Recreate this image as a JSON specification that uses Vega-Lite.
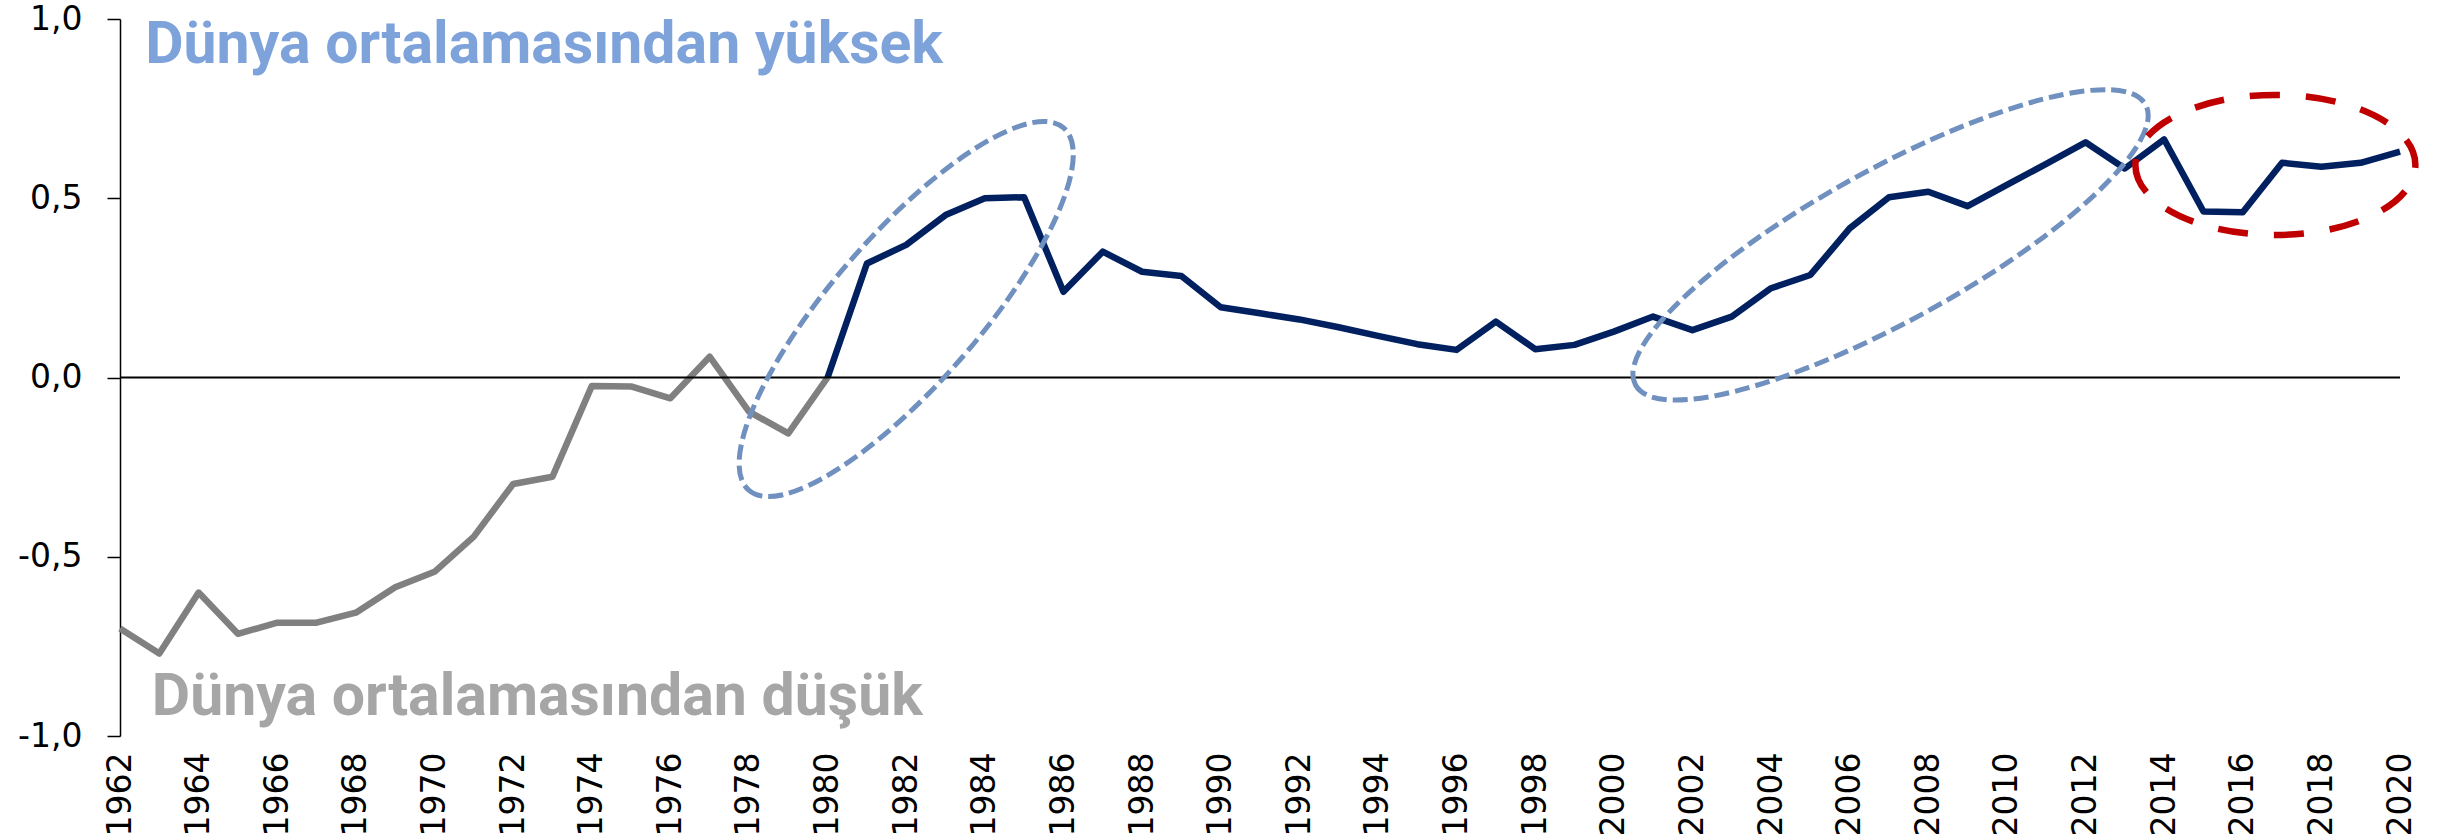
{
  "$schema": "https://vega.github.io/schema/vega-lite/v6.json",
  "autosize": {"type": "none"},
  "padding": {"left": 120, "top": 19, "right": 48, "bottom": 98},
  "width": 2280,
  "height": 717,
  "background": "white",
  "config": {"view": {"stroke": null}},
  "datasets": {
    "series": [
      {"year": 1962, "value": -0.70, "s": "low"},
      {"year": 1963, "value": -0.77, "s": "low"},
      {"year": 1964, "value": -0.60, "s": "low"},
      {"year": 1965, "value": -0.715, "s": "low"},
      {"year": 1966, "value": -0.684, "s": "low"},
      {"year": 1967, "value": -0.684, "s": "low"},
      {"year": 1968, "value": -0.656, "s": "low"},
      {"year": 1969, "value": -0.585, "s": "low"},
      {"year": 1970, "value": -0.542, "s": "low"},
      {"year": 1971, "value": -0.444, "s": "low"},
      {"year": 1972, "value": -0.297, "s": "low"},
      {"year": 1973, "value": -0.277, "s": "low"},
      {"year": 1974, "value": -0.024, "s": "low"},
      {"year": 1975, "value": -0.025, "s": "low"},
      {"year": 1976, "value": -0.058, "s": "low"},
      {"year": 1977, "value": 0.058, "s": "low"},
      {"year": 1978, "value": -0.095, "s": "low"},
      {"year": 1979, "value": -0.156, "s": "low"},
      {"year": 1980, "value": 0.0, "s": "low"},
      {"year": 1980, "value": 0.0, "s": "high"},
      {"year": 1981, "value": 0.318, "s": "high"},
      {"year": 1982, "value": 0.370, "s": "high"},
      {"year": 1983, "value": 0.453, "s": "high"},
      {"year": 1984, "value": 0.500, "s": "high"},
      {"year": 1985, "value": 0.503, "s": "high"},
      {"year": 1986, "value": 0.239, "s": "high"},
      {"year": 1987, "value": 0.351, "s": "high"},
      {"year": 1988, "value": 0.295, "s": "high"},
      {"year": 1989, "value": 0.283, "s": "high"},
      {"year": 1990, "value": 0.196, "s": "high"},
      {"year": 1991, "value": 0.179, "s": "high"},
      {"year": 1992, "value": 0.162, "s": "high"},
      {"year": 1993, "value": 0.140, "s": "high"},
      {"year": 1994, "value": 0.116, "s": "high"},
      {"year": 1995, "value": 0.093, "s": "high"},
      {"year": 1996, "value": 0.077, "s": "high"},
      {"year": 1997, "value": 0.156, "s": "high"},
      {"year": 1998, "value": 0.079, "s": "high"},
      {"year": 1999, "value": 0.091, "s": "high"},
      {"year": 2000, "value": 0.128, "s": "high"},
      {"year": 2001, "value": 0.170, "s": "high"},
      {"year": 2002, "value": 0.132, "s": "high"},
      {"year": 2003, "value": 0.170, "s": "high"},
      {"year": 2004, "value": 0.249, "s": "high"},
      {"year": 2005, "value": 0.286, "s": "high"},
      {"year": 2006, "value": 0.416, "s": "high"},
      {"year": 2007, "value": 0.503, "s": "high"},
      {"year": 2008, "value": 0.518, "s": "high"},
      {"year": 2009, "value": 0.478, "s": "high"},
      {"year": 2010, "value": 0.537, "s": "high"},
      {"year": 2011, "value": 0.596, "s": "high"},
      {"year": 2012, "value": 0.656, "s": "high"},
      {"year": 2013, "value": 0.583, "s": "high"},
      {"year": 2014, "value": 0.664, "s": "high"},
      {"year": 2015, "value": 0.463, "s": "high"},
      {"year": 2016, "value": 0.461, "s": "high"},
      {"year": 2017, "value": 0.599, "s": "high"},
      {"year": 2018, "value": 0.588, "s": "high"},
      {"year": 2019, "value": 0.599, "s": "high"},
      {"year": 2020, "value": 0.630, "s": "high"}
    ],
    "ellipses": [
      {"name": "e1", "year": 1982.0, "value": 0.191},
      {"name": "e2", "year": 2007.04, "value": 0.37},
      {"name": "e3", "year": 2016.83, "value": 0.593}
    ],
    "labels": [
      {"kind": "high", "year": 1962.64, "value": 0.877, "text": "Dünya ortalamasından yüksek"},
      {"kind": "low", "year": 1962.81, "value": -0.941, "text": "Dünya ortalamasından düşük"}
    ]
  },
  "layer": [
    {
      "data": {"name": "series"},
      "mark": {"type": "line", "strokeWidth": 6.5, "strokeJoin": "round"},
      "encoding": {
        "x": {
          "field": "year", "type": "quantitative",
          "scale": {"domain": [1962, 2020], "nice": false, "zero": false},
          "axis": {
            "title": null,
            "values": [1962,1964,1966,1968,1970,1972,1974,1976,1978,1980,1982,1984,1986,1988,1990,1992,1994,1996,1998,2000,2002,2004,2006,2008,2010,2012,2014,2016,2018,2020],
            "format": "d",
            "domain": false, "ticks": false, "tickSize": 0, "grid": false,
            "labelAngle": 270, "labelAlign": "right", "labelBaseline": "middle",
            "labelPadding": 16, "labelFont": "DejaVu Sans", "labelFontSize": 33,
            "labelColor": "#000000", "labelOverlap": false, "labelFlush": false
          }
        },
        "y": {
          "field": "value", "type": "quantitative",
          "scale": {"domain": [-1, 1], "nice": false, "zero": false},
          "axis": {
            "title": null,
            "values": [-1, -0.5, 0, 0.5, 1],
            "labelExpr": "replace(replace(format(datum.value, '.1f'), '.', ','), '\u2212', '-')",
            "domain": true, "domainColor": "#000000", "domainWidth": 1.5,
            "ticks": true, "tickColor": "#000000", "tickWidth": 1.5, "tickSize": 13,
            "grid": false, "labelPadding": 25,
            "labelFont": "DejaVu Sans", "labelFontSize": 33, "labelColor": "#000000",
            "labelOverlap": false, "labelFlush": false
          }
        },
        "color": {
          "field": "s", "type": "nominal",
          "scale": {"domain": ["low", "high"], "range": ["#808080", "#002060"]},
          "legend": null
        }
      }
    },
    {
      "data": {"values": [{"zero": 0}]},
      "mark": {"type": "rule", "color": "#000000", "strokeWidth": 2},
      "encoding": {"y": {"field": "zero", "type": "quantitative"}}
    },
    {
      "data": {"name": "ellipses"},
      "transform": [{"filter": "datum.name == 'e1'"}],
      "mark": {
        "type": "point", "filled": false, "opacity": 1,
        "shape": "M -1 0 A 1 0.308 0 1 0 1 0 A 1 0.308 0 1 0 -1 0 Z",
        "size": 230400, "angle": 311,
        "stroke": "#7090BF", "strokeWidth": 5, "strokeDash": [15, 6]
      },
      "encoding": {
        "x": {"field": "year", "type": "quantitative"},
        "y": {"field": "value", "type": "quantitative"}
      }
    },
    {
      "data": {"name": "ellipses"},
      "transform": [{"filter": "datum.name == 'e2'"}],
      "mark": {
        "type": "point", "filled": false, "opacity": 1,
        "shape": "M -1 0 A 1 0.261 0 1 0 1 0 A 1 0.261 0 1 0 -1 0 Z",
        "size": 338724, "angle": 331.2,
        "stroke": "#7090BF", "strokeWidth": 5, "strokeDash": [15, 6]
      },
      "encoding": {
        "x": {"field": "year", "type": "quantitative"},
        "y": {"field": "value", "type": "quantitative"}
      }
    },
    {
      "data": {"name": "ellipses"},
      "transform": [{"filter": "datum.name == 'e3'"}],
      "mark": {
        "type": "point", "filled": false, "opacity": 1,
        "shape": "M -1 0 A 1 0.5 0 1 0 1 0 A 1 0.5 0 1 0 -1 0 Z",
        "size": 78400, "angle": 0,
        "stroke": "#C00000", "strokeWidth": 6.5, "strokeDash": [30, 26]
      },
      "encoding": {
        "x": {"field": "year", "type": "quantitative"},
        "y": {"field": "value", "type": "quantitative"}
      }
    },
    {
      "data": {"name": "labels"},
      "transform": [{"filter": "datum.kind == 'high'"}],
      "mark": {
        "type": "text", "align": "left", "baseline": "alphabetic",
        "font": "Roboto", "fontWeight": "bold", "fontSize": 59, "color": "#7EA3DB"
      },
      "encoding": {
        "x": {"field": "year", "type": "quantitative"},
        "y": {"field": "value", "type": "quantitative"},
        "text": {"field": "text"}
      }
    },
    {
      "data": {"name": "labels"},
      "transform": [{"filter": "datum.kind == 'low'"}],
      "mark": {
        "type": "text", "align": "left", "baseline": "alphabetic",
        "font": "Roboto", "fontWeight": "bold", "fontSize": 59, "color": "#A6A6A6"
      },
      "encoding": {
        "x": {"field": "year", "type": "quantitative"},
        "y": {"field": "value", "type": "quantitative"},
        "text": {"field": "text"}
      }
    }
  ]
}
